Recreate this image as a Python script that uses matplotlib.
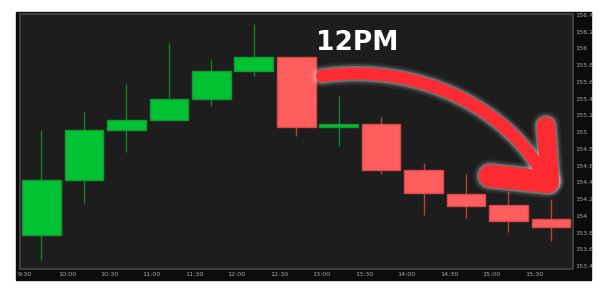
import numpy as np
import matplotlib
matplotlib.use("Agg")
import matplotlib.pyplot as plt
from matplotlib.patches import Rectangle, PathPatch
from matplotlib.path import Path

# 30 minute candles
times = ['9:30', '10:00', '10:30', '11:00', '11:30', '12:00', '12:30',
         '13:00', '13:30', '14:00', '14:30', '15:00', '15:30']
opens = [153.77, 154.43, 155.03, 155.15, 155.40, 155.73, 155.90,
         155.06, 155.10, 154.55, 154.26, 154.13, 153.96]
highs = [155.03, 155.24, 155.58, 156.07, 155.86, 156.29, 155.90,
         155.43, 155.18, 154.63, 154.50, 154.30, 154.20]
lows = [153.47, 154.15, 154.76, 155.15, 155.31, 155.67, 154.95,
        154.83, 154.50, 154.01, 153.97, 153.81, 153.70]
closes = [154.43, 155.03, 155.15, 155.40, 155.73, 155.90, 155.06,
          155.10, 154.55, 154.27, 154.12, 153.94, 153.87]
price_ticks = [156.4, 156.2, 156.0, 155.8, 155.6, 155.4, 155.2, 155.0,
               154.8, 154.6, 154.4, 154.2, 154.0, 153.8, 153.6, 153.4]

opens = np.array(opens)
closes = np.array(closes)
x = np.arange(len(times))
up = closes >= opens

fig = plt.figure(figsize=(6.02, 2.92), dpi=100)
fig.patch.set_facecolor('white')

# dark widget frame behind the axes
fig.patches.append(Rectangle((16 / 602, 1 - 280 / 292), 575 / 602, 268 / 292,
                             transform=fig.transFigure, color='#0b0b0b', zorder=-5))

ax = fig.add_axes([20 / 602, 1 - 269 / 292, 553 / 602, 255 / 292])
ax.set_zorder(1)
ax.set_facecolor('#1d1d1d')
for s in ax.spines.values():
    s.set_color('#3a3d41')
    s.set_linewidth(1.5)

# wicks
wick_col = np.where(up, '#16812b', '#b3403f')
ax.vlines(x, lows, highs, colors=wick_col, linewidth=1, zorder=2)

# bodies
body_col = np.where(up, '#00c232', '#ff5e5e')
edge_col = np.where(up, '#129a2d', '#d94a4a')
ax.bar(x, closes - opens, bottom=opens, width=0.91, color=body_col,
       edgecolor=edge_col, linewidth=1, zorder=3)

ax.set_xlim(-0.506, 12.52)
ax.set_ylim(153.364, 156.412)

ax.yaxis.tick_right()
ax.set_yticks(price_ticks)
ax.set_yticklabels(['%g' % p for p in price_ticks])
ax.set_xticks(x - 0.4)
ax.set_xticklabels(times)
ax.tick_params(axis='both', length=0, labelsize=4.6, labelcolor='#a8a8a8')
ax.tick_params(axis='y', pad=1.5)
ax.tick_params(axis='x', pad=2)
for lab in ax.get_yticklabels() + ax.get_xticklabels():
    lab.set_family('Liberation Sans Narrow')

# hand drawn annotation
ax.text(7.43, 156.07, '12PM', color='white', fontsize=19, fontweight='bold',
        ha='center', va='center', zorder=6)

red = '#ff2b33'
shaft = Path([(6.606, 155.671), (8.914, 155.838), (11.034, 155.265), (11.858, 154.452)],
             [Path.MOVETO, Path.CURVE4, Path.CURVE4, Path.CURVE4])
head_v = [(11.882, 155.073), (11.976, 154.428)]
head_h = [(10.563, 154.476), (11.929, 154.404)]

for extra, a in [(8, 0.06), (5, 0.12), (2.5, 0.25)]:
    ax.add_patch(PathPatch(shaft, facecolor='none', edgecolor='white', lw=8.6 + extra,
                           alpha=a, capstyle='round', zorder=4))
    for seg, lw in [(head_v, 13), (head_h, 16)]:
        xs, ys = zip(*seg)
        ax.plot(xs, ys, color='white', lw=lw + extra, alpha=a,
                solid_capstyle='round', zorder=4)

ax.add_patch(PathPatch(shaft, facecolor='none', edgecolor=red, lw=8.6,
                       capstyle='round', zorder=5))
for seg, lw in [(head_v, 13), (head_h, 16)]:
    xs, ys = zip(*seg)
    ax.plot(xs, ys, color=red, lw=lw, solid_capstyle='round', zorder=5)

fig.savefig('out.png', dpi=100, facecolor='white')
